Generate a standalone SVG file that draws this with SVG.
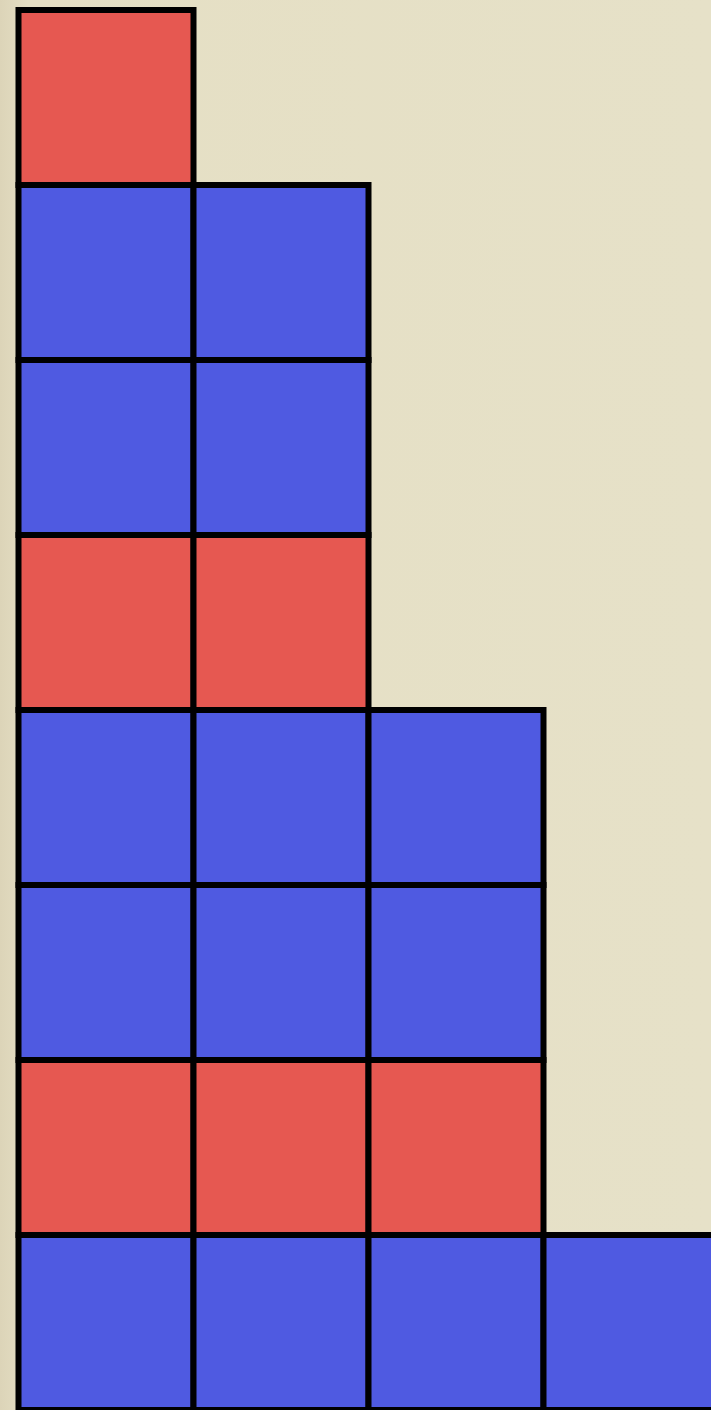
<svg xmlns="http://www.w3.org/2000/svg" width="711" height="1410" viewBox="0 0 711 1410">
<style>
.r{fill:#E65851;stroke:#000;stroke-width:6}
.b{fill:#4F5AE1;stroke:#000;stroke-width:6}
</style>
<defs>
<linearGradient id="bg" x1="0" y1="0" x2="1" y2="0">
<stop offset="0" stop-color="#DCD4B8"/>
<stop offset="0.04" stop-color="#E5DFC4"/>
<stop offset="1" stop-color="#E6E1C8"/>
</linearGradient>
</defs>
<rect x="0" y="0" width="711" height="1410" fill="url(#bg)"/>
<g id="row1"><rect class="r" x="18.5" y="10" width="175" height="175"/></g>
<g id="row2"><rect class="b" x="18.5" y="185" width="175" height="175"/><rect class="b" x="193.5" y="185" width="175" height="175"/></g>
<g id="row3"><rect class="b" x="18.5" y="360" width="175" height="175"/><rect class="b" x="193.5" y="360" width="175" height="175"/></g>
<g id="row4"><rect class="r" x="18.5" y="535" width="175" height="175"/><rect class="r" x="193.5" y="535" width="175" height="175"/></g>
<g id="row5"><rect class="b" x="18.5" y="710" width="175" height="175"/><rect class="b" x="193.5" y="710" width="175" height="175"/><rect class="b" x="368.5" y="710" width="175" height="175"/></g>
<g id="row6"><rect class="b" x="18.5" y="885" width="175" height="175"/><rect class="b" x="193.5" y="885" width="175" height="175"/><rect class="b" x="368.5" y="885" width="175" height="175"/></g>
<g id="row7"><rect class="r" x="18.5" y="1060" width="175" height="175"/><rect class="r" x="193.5" y="1060" width="175" height="175"/><rect class="r" x="368.5" y="1060" width="175" height="175"/></g>
<g id="row8"><rect class="b" x="18.5" y="1235" width="175" height="175"/><rect class="b" x="193.5" y="1235" width="175" height="175"/><rect class="b" x="368.5" y="1235" width="175" height="175"/><rect class="b" x="543.5" y="1235" width="175" height="175"/></g>
<g id="connectors"></g>
</svg>
